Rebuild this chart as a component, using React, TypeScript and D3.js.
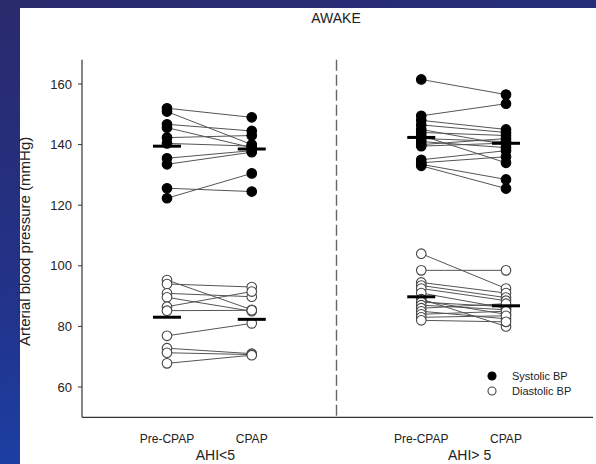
import React from "react";
import * as d3 from "d3";

const title = "AWAKE";
const yLabel = "Arterial blood pressure  (mmHg)";
const groups = ["AHI<5", "AHI> 5"];
const phases = ["Pre-CPAP", "CPAP"];
const yTicks = [60, 80, 100, 120, 140, 160];
const legendLabels = ["Systolic BP", "Diastolic BP"];

// AHI<5 group (paired: pre -> CPAP)
const lowSysPre = [152, 150.9, 146.7, 145.6, 142.3, 140.4, 135.5, 133.5, 125.6, 122.3];
const lowSysCpap = [149, 140, 144.5, 139, 143, 139.5, 138, 137.5, 124.5, 130.5];
const lowDiaPre = [95.3, 94, 90.9, 89.6, 86.5, 85.2, 76.9, 72.8, 71.3, 67.8];
const lowDiaCpap = [85.5, 93, 89.8, 85, 91.5, 85.3, 81, 71, 70.7, 70.5];

// AHI>5 group (paired: pre -> CPAP)
const highSysPre = [161.5, 149.5, 148, 146.5, 145, 144, 143, 142, 141, 140, 139.5, 135, 134, 133.5, 133];
const highSysCpap = [156.5, 153.5, 145, 144, 140, 143, 134, 141, 139, 142, 140.5, 138, 136, 128.5, 125.5];
const highDiaPre = [104, 98.5, 94.5, 93.5, 92.5, 91, 89, 88.5, 88, 87, 86, 85, 84, 83, 82];
const highDiaCpap = [92.5, 98.5, 91, 89.5, 88.5, 86, 80, 84, 86.5, 85.5, 87.5, 82.5, 85, 83.5, 81.5];

const W = 596;
const H = 464;

export default function App() {
  const y = d3.scaleLinear().domain([60, 160]).range([387, 84]);
  const yTop = y(168);
  const yBot = y(50);
  const axisX = 82;
  const axisRight = 593;

  const slots = [
    `${groups[0]}|${phases[0]}`,
    `${groups[0]}|${phases[1]}`,
    "sep",
    `${groups[1]}|${phases[0]}`,
    `${groups[1]}|${phases[1]}`,
  ];
  const x = d3.scalePoint<string>().domain(slots).range([167, 506]);

  const series = [
    { g: groups[0], pre: lowSysPre, post: lowSysCpap, filled: true },
    { g: groups[0], pre: lowDiaPre, post: lowDiaCpap, filled: false },
    { g: groups[1], pre: highSysPre, post: highSysCpap, filled: true },
    { g: groups[1], pre: highDiaPre, post: highDiaCpap, filled: false },
  ];

  const r = 4.8;
  const barHalf = 14;

  return (
    <svg
      width={W}
      height={H}
      style={{ position: "absolute", left: 0, top: 0, display: "block" }}
      fontFamily="Arial, 'Liberation Sans', Helvetica, sans-serif"
    >
      <defs>
        <linearGradient id="bg" x1="0" y1="0" x2="0.3" y2="1">
          <stop offset="0" stopColor="#2a2a6c" />
          <stop offset="0.6" stopColor="#22338a" />
          <stop offset="1" stopColor="#1b42a8" />
        </linearGradient>
      </defs>
      <rect x={0} y={0} width={W} height={H} fill="url(#bg)" />
      <rect x={20} y={8} width={W - 20} height={H - 8} fill="#ffffff" />

      <text x={336} y={23} textAnchor="middle" fontSize={14} fill="#222">
        {title}
      </text>

      {/* axes */}
      <line x1={axisX} y1={yTop} x2={axisX} y2={yBot} stroke="#333" strokeWidth={1.2} />
      <line x1={axisX} y1={yBot} x2={axisRight} y2={yBot} stroke="#333" strokeWidth={1.2} />
      {yTicks.map((t) => (
        <g key={t}>
          <line x1={axisX - 4} x2={axisX} y1={y(t)} y2={y(t)} stroke="#333" strokeWidth={1} />
          <text x={axisX - 10} y={y(t)} dy="0.35em" textAnchor="end" fontSize={13} fill="#222">
            {t}
          </text>
        </g>
      ))}
      <text
        transform={`translate(30, ${(y(60) + yTop) / 2 + 18}) rotate(-90)`}
        textAnchor="middle"
        fontSize={15}
        fill="#222"
      >
        {yLabel}
      </text>

      {/* separator */}
      <line
        x1={x("sep")}
        x2={x("sep")}
        y1={yTop}
        y2={yBot}
        stroke="#666"
        strokeWidth={1.4}
        strokeDasharray="11,4"
      />

      {/* paired lines */}
      {series.map((s, si) =>
        s.pre.map((v, i) => (
          <line
            key={`l${si}-${i}`}
            x1={x(`${s.g}|${phases[0]}`)}
            x2={x(`${s.g}|${phases[1]}`)}
            y1={y(v)}
            y2={y(s.post[i])}
            stroke="#555"
            strokeWidth={1}
          />
        ))
      )}

      {/* points */}
      {series.map((s, si) =>
        [s.pre, s.post].map((arr, pi) =>
          arr.map((v, i) => (
            <circle
              key={`c${si}-${pi}-${i}`}
              cx={x(`${s.g}|${phases[pi]}`)}
              cy={y(v)}
              r={r}
              fill={s.filled ? "#000" : "#fff"}
              stroke={s.filled ? "#000" : "#444"}
              strokeWidth={1.1}
            />
          ))
        )
      )}

      {/* mean bars */}
      {series.map((s, si) =>
        [s.pre, s.post].map((arr, pi) => {
          const cx = x(`${s.g}|${phases[pi]}`)!;
          const m = d3.mean(arr)!;
          return (
            <line
              key={`m${si}-${pi}`}
              x1={cx - barHalf}
              x2={cx + barHalf}
              y1={y(m)}
              y2={y(m)}
              stroke="#000"
              strokeWidth={3}
            />
          );
        })
      )}

      {/* category labels */}
      {groups.map((g) => (
        <g key={g}>
          {phases.map((p) => (
            <text key={p} x={x(`${g}|${p}`)} y={443} textAnchor="middle" fontSize={12} fill="#222">
              {p}
            </text>
          ))}
          <text
            x={((x(`${g}|${phases[0]}`)! + x(`${g}|${phases[1]}`)!) / 2) + 6}
            y={460}
            textAnchor="middle"
            fontSize={14}
            fill="#222"
          >
            {g}
          </text>
        </g>
      ))}

      {/* legend */}
      {legendLabels.map((l, i) => (
        <g key={l}>
          <circle
            cx={492}
            cy={376 + i * 15}
            r={4}
            fill={i === 0 ? "#000" : "#fff"}
            stroke={i === 0 ? "#000" : "#444"}
            strokeWidth={1.1}
          />
          <text x={512} y={376 + i * 15} dy="0.35em" fontSize={11} fill="#222">
            {l}
          </text>
        </g>
      ))}
    </svg>
  );
}
